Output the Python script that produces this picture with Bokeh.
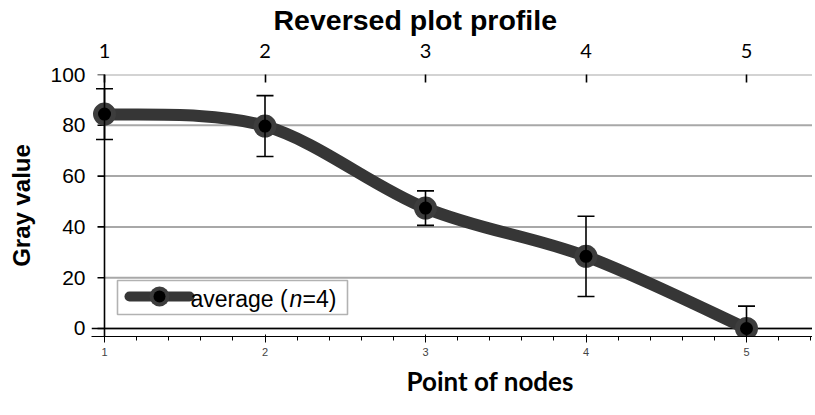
from bokeh.plotting import figure
from bokeh.models import (Range1d, FixedTicker, Span, BoxAnnotation, Label, Title,
                          LinearAxis)
from bokeh.embed import file_html
from bokeh.resources import INLINE

# ---- data ----
nodes = [1, 2, 3, 4, 5]
gray = [84.4, 79.7, 47.4, 28.4, 0.0]
sd = [10.0, 12.0, 6.8, 15.8, 8.8]
y_ticks = [0, 20, 40, 60, 80, 100]
x_ticks = [1, 2, 3, 4, 5]
title_text = "Reversed plot profile"
x_label = "Point of nodes"
y_label = "Gray value"

# ---- layout constants ----
FRAME_W, FRAME_H = 721, 262
X_START = 1 - 13 / 160.5
X_END = X_START + FRAME_W / 160.5
Y_START, Y_END = -3.15, 100
PX_X = FRAME_W / (X_END - X_START)
PX_Y = FRAME_H / (Y_END - Y_START)


def dx(px):  # pixels right of x=1
    return 1 + px / PX_X


def dy(px):  # pixels above y=0
    return px / PX_Y


p = figure(width=812, height=415, frame_width=FRAME_W, frame_height=FRAME_H,
           output_backend="svg", toolbar_location=None,
           x_range=Range1d(X_START, X_END), y_range=Range1d(Y_START, Y_END),
           min_border_left=91, min_border_right=0, min_border_top=74,
           min_border_bottom=79)
p.outline_line_color = None
p.background_fill_color = "white"
p.border_fill_color = "white"
p.xgrid.visible = False
p.ygrid.visible = False

# empty spacer between the frame and the title (pushes the title up)
spacer = LinearAxis(ticker=FixedTicker(ticks=[]), axis_line_color=None,
                    major_tick_in=0, major_tick_out=30, major_tick_line_color=None,
                    minor_tick_in=0, minor_tick_out=0, minor_tick_line_color=None,
                    major_label_standoff=0)
p.add_layout(spacer, "above")

# title
p.title.text = title_text
p.title.text_font = "Liberation Sans"
p.title.text_font_size = "28.5px"
p.title.text_font_style = "bold"
p.title.text_color = "black"
p.title.align = "left"
p.title.offset = 182
p.title.vertical_align = "top"
p.title.standoff = 6

# gridlines (from the y axis to the right edge)
p.segment(x0=[1] * len(y_ticks), x1=[X_END] * len(y_ticks), y0=y_ticks, y1=y_ticks,
          line_color="#a8a8a8", line_width=2, level="underlay")

# axis lines
p.add_layout(Span(location=0, dimension="width", line_color="black",
                  line_width=1.6, level="underlay"))
p.add_layout(Span(location=1, dimension="height", line_color="black",
                  line_width=1.6, level="underlay"))

# x axis
xa = p.xaxis[0]
xa.ticker = FixedTicker(ticks=x_ticks)
xa.axis_line_color = None
xa.major_tick_in = 8
xa.major_tick_out = 0
xa.major_tick_line_color = "black"
xa.major_tick_line_width = 1.6
xa.minor_tick_line_color = None
xa.major_label_text_font = "Lato"
xa.major_label_text_font_size = "20px"
xa.major_label_text_color = "black"
xa.major_label_standoff = 17
p.add_layout(Title(text=x_label, align="left", offset=315, text_font="Lato",
                   text_font_size="26px", text_font_style="bold", text_color="black",
                   standoff=9), "below")

# y axis
ya = p.yaxis[0]
ya.ticker = FixedTicker(ticks=y_ticks)
ya.axis_line_color = None
ya.major_tick_line_color = None
ya.major_tick_in = 0
ya.major_tick_out = 0
ya.minor_tick_line_color = None
ya.minor_tick_in = 0
ya.minor_tick_out = 0
ya.major_label_text_font = "Liberation Sans"
ya.major_label_text_font_size = "21px"
ya.major_label_text_color = "black"
ya.major_label_standoff = 6
ya.axis_label = y_label
ya.axis_label_text_font = "Liberation Sans"
ya.axis_label_text_font_size = "24px"
ya.axis_label_text_font_style = "bold"
ya.axis_label_text_color = "black"
ya.axis_label_standoff = 12
# y tick marks (outside, left of the x=1 axis line)
p.scatter(x=[dx(-3.5)] * len(y_ticks), y=y_ticks, marker="dash", size=7,
          line_color="black", line_width=1.6)

# smoothed line through the points (Catmull-Rom style Bezier)
n = len(nodes)
bx0, by0, bx1, by1, cx0, cy0, cx1, cy1 = [], [], [], [], [], [], [], []
for i in range(n - 1):
    ip = max(i - 1, 0)
    inn = min(i + 2, n - 1)
    bx0.append(nodes[i]); by0.append(gray[i])
    bx1.append(nodes[i + 1]); by1.append(gray[i + 1])
    cx0.append(nodes[i] + (nodes[i + 1] - nodes[ip]) / 6)
    cy0.append(gray[i] + (gray[i + 1] - gray[ip]) / 6)
    cx1.append(nodes[i + 1] - (nodes[inn] - nodes[i]) / 6)
    cy1.append(gray[i + 1] - (gray[inn] - gray[i]) / 6)
p.bezier(x0=bx0, y0=by0, x1=bx1, y1=by1, cx0=cx0, cy0=cy0, cx1=cx1, cy1=cy1,
         line_color="#363636", line_width=12, line_cap="round")

# markers
p.scatter(x=nodes, y=gray, size=23, fill_color="#3d3d3d", line_color=None)
p.scatter(x=nodes, y=gray, size=13, fill_color="black", line_color=None)

# error bars
lo = [g - s for g, s in zip(gray, sd)]
hi = [g + s for g, s in zip(gray, sd)]
p.segment(x0=nodes, x1=nodes, y0=lo, y1=hi, line_color="black", line_width=1.6)
p.scatter(x=nodes + nodes, y=lo + hi, marker="dash", size=17,
          line_color="black", line_width=1.6)

# legend (manual, to allow italic n)
p.add_layout(BoxAnnotation(left=dx(13), right=dx(243), bottom=dy(14), top=dy(48),
                           fill_color="white", fill_alpha=1.0, line_color="black",
                           line_width=1.6, level="underlay"))
p.line(x=[dx(25), dx(85)], y=[dy(32), dy(32)], line_color="#363636", line_width=10,
       line_cap="round")
p.scatter(x=[dx(55)], y=[dy(32)], size=20, fill_color="#3d3d3d", line_color=None)
p.scatter(x=[dx(55)], y=[dy(32)], size=12, fill_color="black", line_color=None)
common = dict(x=dx(86), y=dy(29), text_baseline="middle", text_font="Liberation Sans",
              text_font_size="23px", text_color="black")
p.add_layout(Label(text="average (", **common))
p.add_layout(Label(text="n", x_offset=99, text_font_style="italic", **common))
p.add_layout(Label(text="=4)", x_offset=112, **common))

open("out.html", "w").write(file_html(p, INLINE))
